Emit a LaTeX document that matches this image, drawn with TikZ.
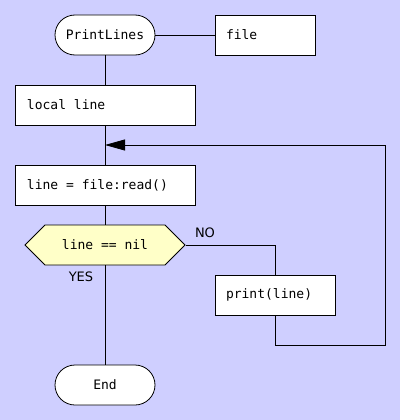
\documentclass[tikz,border=0pt]{standalone}
\usepackage{fontspec}
\setmainfont{DejaVu Sans}
\setmonofont{DejaVu Sans Mono}
\usetikzlibrary{arrows.meta,shapes.symbols}
\definecolor{bgc}{HTML}{CFCFFF}
\definecolor{decc}{HTML}{FFFFC8}
\tikzset{
  every node/.style={font=\fontsize{13}{15}\selectfont\ttfamily},
  term/.style={draw, fill=white, rounded corners=20pt, minimum width=100pt, minimum height=40pt, inner sep=0pt, line width=0.8pt},
  proc/.style={draw, fill=white, minimum height=40pt, align=flush left, inner sep=0pt, text width=#1, line width=0.8pt},
  dec/.style={draw, fill=decc, signal, signal to=west and east, signal pointer angle=90, minimum width=160pt, minimum height=40pt, inner sep=0pt, line width=0.8pt},
  lbl/.style={font=\fontsize{13}{15}\selectfont\rmfamily, inner sep=0pt},
  conn/.style={line width=0.8pt},
}
\begin{document}
\begin{tikzpicture}[x=1pt,y=-1pt]
\fill[bgc] (0,0) rectangle (400,420);
\useasboundingbox (0,0) rectangle (400,420);
\node[term] (pl) at (105,35) {PrintLines};
\node[proc=100pt] (file) at (265,35) {\hspace*{11pt}file};
\node[proc=180pt] (local) at (105,105) {\hspace*{12pt}local line};
\node[proc=180pt] (read) at (105,185) {\hspace*{12pt}line = file:read()};
\node[dec] (dec) at (105,245) {line == nil};
\node[proc=120pt] (print) at (275,295) {\hspace*{11pt}print(line)};
\node[term] (end) at (105,385) {End};
\node[lbl] (no) at (205,233) {NO};
\node[lbl] (yes) at (81,277) {YES};
\coordinate (c1) at (385,345);
\coordinate (c2) at (385,145);
\coordinate (m) at (105,145);
\draw[conn] (pl.east) -- (file.west);
\draw[conn] (pl.south) -- (local.north);
\draw[conn] (local.south) -- (read.north);
\draw[conn] (read.south) -- (dec.north);
\draw[conn] (dec.east) -| (print.north);
\draw[conn] (dec.south) -- (end.north);
\draw[conn, -{Triangle[length=20pt,width=11pt]}] (print.south) |- (c1) -- (c2) -- (m);
\end{tikzpicture}
\end{document}
